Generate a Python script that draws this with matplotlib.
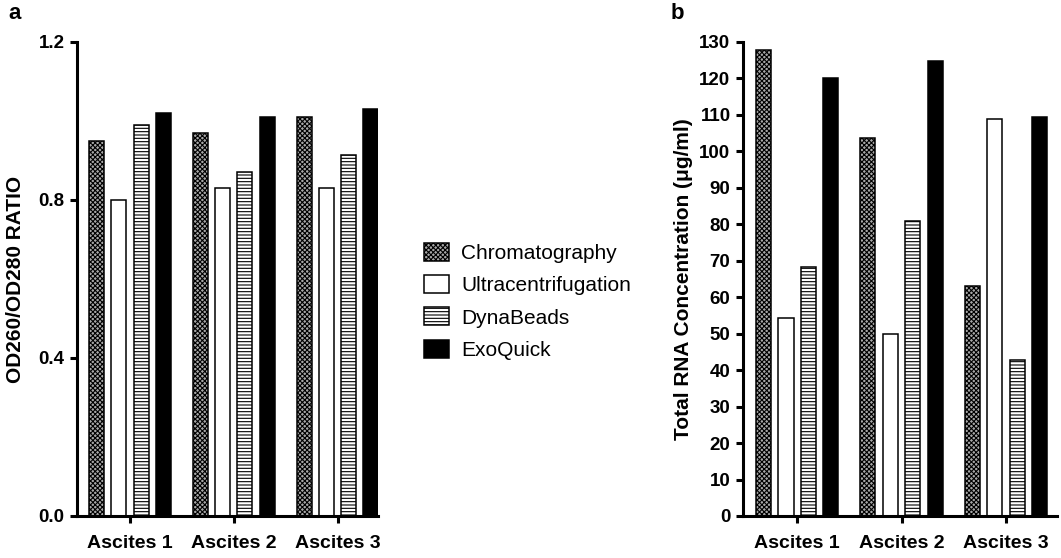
import numpy as np
import matplotlib.pyplot as plt

plt.rcParams['font.family'] = ['Liberation Sans', 'DejaVu Sans']
plt.rcParams['hatch.linewidth'] = 0.8

# --- data ---
groups = ['Ascites 1', 'Ascites 2', 'Ascites 3']
methods = ['Chromatography', 'Ultracentrifugation', 'DynaBeads', 'ExoQuick']

ratio_chrom = [0.95, 0.97, 1.01]
ratio_ultra = [0.80, 0.83, 0.83]
ratio_dyna = [0.99, 0.87, 0.915]
ratio_exo = [1.02, 1.01, 1.03]

rna_chrom = [127.8, 103.7, 63.1]
rna_ultra = [54.3, 49.9, 108.9]
rna_dyna = [68.3, 80.9, 42.8]
rna_exo = [120.1, 124.8, 109.4]

# bar styles per method: (facecolor, hatch)
styles = [('#a8a8a8', 'xxxxxxx'), ('white', ''), ('white', '-----'), ('black', '')]

W, H = 1061, 558
fig = plt.figure(figsize=(W / 100, H / 100), dpi=100)


def px_axes(x0, x1, y0, y1):
    return fig.add_axes([x0 / W, 1 - y1 / H, (x1 - x0) / W, (y1 - y0) / H])


def draw_panel(ax, series, xlim, ylim, yticks, fmt, ylabel):
    x = np.arange(len(groups))
    step, width = 0.215, 0.145
    handles = []
    for i, vals in enumerate(series):
        fc, hatch = styles[i]
        b = ax.bar(x + (i - 1.5) * step, vals, width, color=fc, hatch=hatch,
                   edgecolor='black', linewidth=1.1, label=methods[i])
        handles.append(b)
    ax.set_xlim(*xlim)
    ax.set_ylim(*ylim)
    ax.set_xticks(x)
    ax.set_xticklabels(groups, fontsize=14, fontweight='bold')
    ax.set_yticks(yticks)
    ax.set_yticklabels([fmt.format(v) for v in yticks], fontsize=13.5, fontweight='bold')
    for s in ['top', 'right']:
        ax.spines[s].set_visible(False)
    for s in ['left', 'bottom']:
        ax.spines[s].set_linewidth(2.2)
    ax.tick_params(axis='both', direction='out', width=2.2, length=5, pad=4)
    ax.tick_params(axis='x', pad=9)
    ax.set_ylabel(ylabel, fontsize=15, fontweight='bold')
    return handles


# --- panel a ---
ax1 = px_axes(77, 378, 42, 516)
h = draw_panel(ax1, [ratio_chrom, ratio_ultra, ratio_dyna, ratio_exo],
               (-0.51, 2.39), (0, 1.2), [0.0, 0.4, 0.8, 1.2], '{:.1f}',
               'OD260/OD280 RATIO')
ax1.yaxis.set_label_coords(-52 / 301, 0.5)

# --- panel b ---
ax2 = px_axes(743, 1057, 42, 516)
draw_panel(ax2, [rna_chrom, rna_ultra, rna_dyna, rna_exo],
           (-0.52, 2.49), (0, 130), list(range(0, 131, 10)), '{:d}',
           'Total RNA Concentration (\u03bcg/ml)')
ax2.yaxis.set_label_coords(-50 / 314, 0.5)

fig.legend(handles=h, labels=methods, loc='upper left',
           bbox_to_anchor=(424 / W, 1 - 243 / H), frameon=False,
           fontsize=15, handlelength=1.2, handleheight=0.95,
           handletextpad=0.6, labelspacing=0.58, borderpad=0, borderaxespad=0)

fig.text(8 / W, 1 - 3 / H, 'a', fontsize=16, fontweight='bold', va='top')
fig.text(671 / W, 1 - 3 / H, 'b', fontsize=16, fontweight='bold', va='top')

fig.savefig('out.png', dpi=100)
